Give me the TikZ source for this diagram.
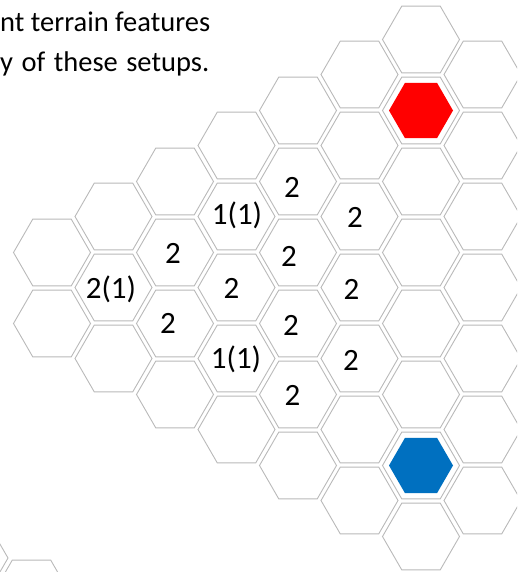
\documentclass[tikz,border=0pt]{standalone}
\usepackage{fontspec}
\setmainfont{Carlito}
\usetikzlibrary{shapes.geometric}
\definecolor{hexgray}{RGB}{185,185,185}
\definecolor{hexred}{RGB}{255,0,0}
\definecolor{hexblue}{RGB}{0,112,192}
\tikzset{
  hexcell/.style={regular polygon, regular polygon sides=6, minimum size=77pt,
    inner sep=0pt, draw=hexgray, line width=0.9pt},
  hexfill/.style={regular polygon, regular polygon sides=6, minimum size=64pt,
    inner sep=0pt, draw=none},
  cellnum/.style={anchor=base, inner sep=0pt, font=\fontsize{31}{37}\selectfont},
  pagetext/.style={anchor=base west, inner sep=0pt, font=\fontsize{28.5}{34}\selectfont}
}
\begin{document}
\begin{tikzpicture}[x=1pt,y=-1pt]
\useasboundingbox (0,0) rectangle (517,572);
\clip (0,0) rectangle (517,572);
% page text (cropped)
\node[pagetext] (line1) at (0,31.7) {nt terrain features};
\node[pagetext] (line2) at (0,72) {\spaceskip=8.5pt y of these setups.};
% hex grid
\foreach \c/\yz/\n in {-1/74.5/7, 0/39.5/8, 1/74.5/7, 2/110.5/6, 3/145.5/5, 4/181.5/4, 5/216.5/3, 6/252.5/2} {
  \foreach \r in {1,...,\n} {
    \node[hexcell] (h\c-\r) at ({421-61.5*\c},{\yz+71*(\r-1)}) {};
  }
}
% partial hexes of the next grid (bottom left)
\node[hexcell] (hb) at (-30.5,558) {};
\node[hexcell] (hc) at (31.5,593.5) {};
% start / goal hexes
\node[hexfill, fill=hexred] (red) at (h0-2.center) {};
\node[hexfill, fill=hexblue] (blue) at (h0-7.center) {};
% labels
\node[cellnum] (l1) at (292,197) {2};
\node[cellnum] (l2) at (237,224) {1(1)};
\node[cellnum] (l3) at (355,227) {2};
\node[cellnum] (l4) at (173,263) {2};
\node[cellnum] (l5) at (289,266) {2};
\node[cellnum] (l6) at (111,298) {2(1)};
\node[cellnum] (l7) at (231.5,298) {2};
\node[cellnum] (l8) at (351.5,299) {2};
\node[cellnum] (l9) at (168,333) {2};
\node[cellnum] (l10) at (291,335) {2};
\node[cellnum] (l11) at (236,368) {1(1)};
\node[cellnum] (l12) at (351,370) {2};
\node[cellnum] (l13) at (292.5,405) {2};
\end{tikzpicture}
\end{document}
